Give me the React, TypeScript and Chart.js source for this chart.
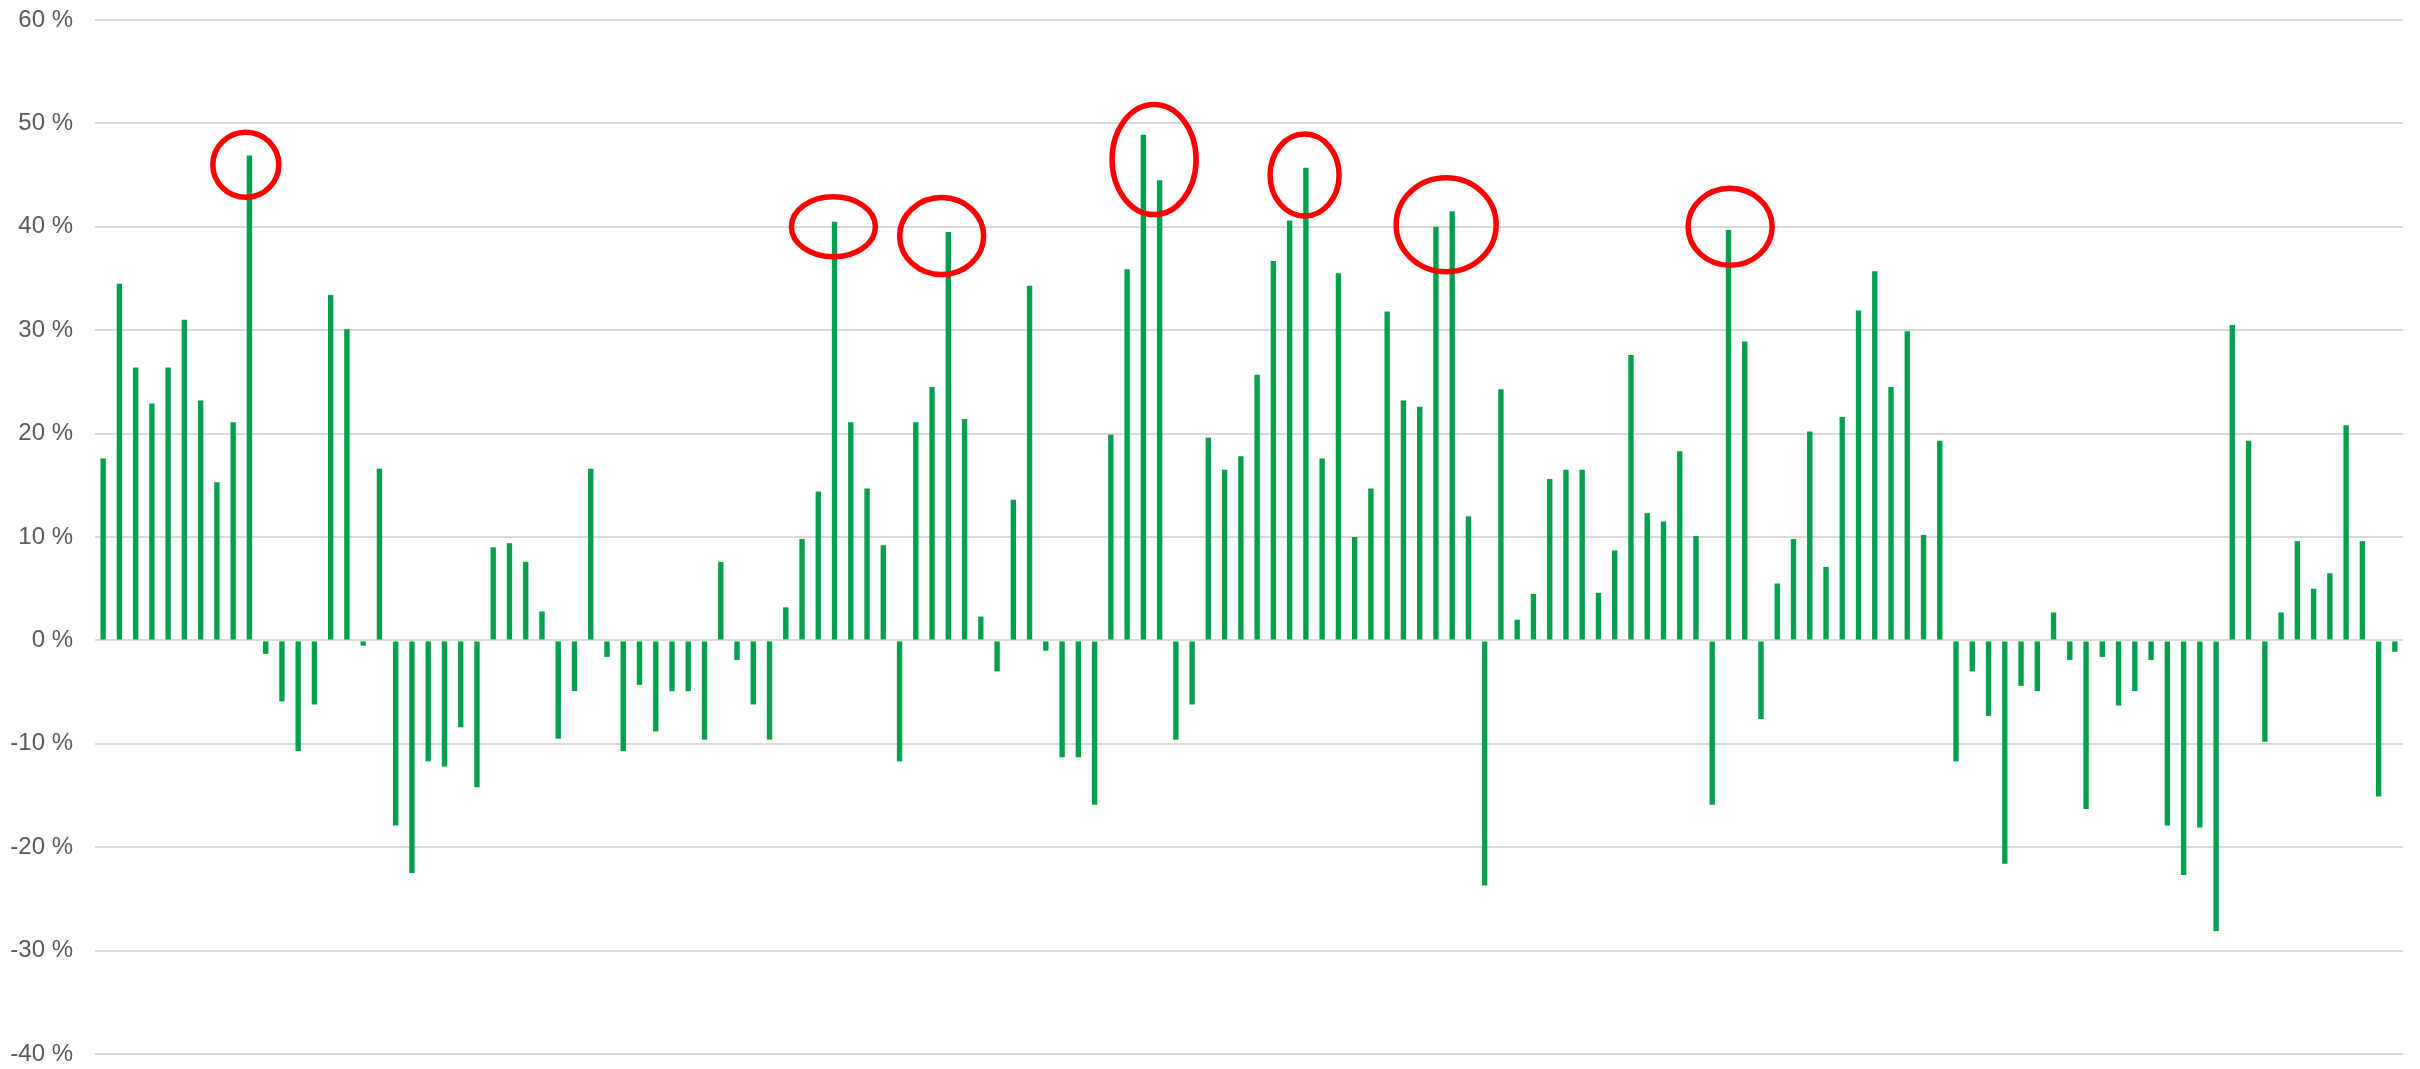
import React, { useEffect, useRef } from 'react';
import { Chart, registerables } from 'chart.js';

Chart.register(...registerables);

// Series values (%), one per period
const seriesValues: number[] = [
  17.6, 34.5, 26.4, 22.9, 26.4, 31.0, 23.2, 15.3, 21.1, 46.9,
  -1.3, -5.9, -10.7, -6.2, 33.4, 30.1, -0.5, 16.6, -17.9, -22.5,
  -11.7, -12.2, -8.4, -14.2, 9.0, 9.4, 7.6, 2.8, -9.5, -4.9,
  16.6, -1.6, -10.7, -4.3, -8.8, -4.9, -4.9, -9.6, 7.6, -1.9,
  -6.2, -9.6, 3.2, 9.8, 14.4, 40.5, 21.1, 14.7, 9.2, -11.7,
  21.1, 24.5, 39.5, 21.4, 2.3, -3.0, 13.6, 34.3, -1.0, -11.3,
  -11.3, -15.9, 19.9, 35.9, 48.9, 44.5, -9.6, -6.2, 19.6, 16.5,
  17.8, 25.7, 36.7, 40.6, 45.7, 17.6, 35.5, 10.0, 14.7, 31.8,
  23.2, 22.6, 40.0, 41.5, 12.0, -23.7, 24.3, 2.0, 4.5, 15.6,
  16.5, 16.5, 4.6, 8.7, 27.6, 12.3, 11.5, 18.3, 10.1, -15.9,
  39.7, 28.9, -7.6, 5.5, 9.8, 20.2, 7.1, 21.6, 31.9, 35.7,
  24.5, 29.9, 10.2, 19.3, -11.7, -3.0, -7.3, -21.6, -4.4, -4.9,
  2.7, -1.9, -16.3, -1.6, -6.3, -4.9, -1.9, -17.9, -22.7, -18.1,
  -28.1, 30.5, 19.3, -9.8, 2.7, 9.6, 5.0, 6.5, 20.8, 9.6,
  -15.1, -1.1,
];

// Category labels (periods are not labelled in the reference)
const categories: string[] = seriesValues.map((_, i) => String(i + 1));

// Y-axis ticks
const yMin = -40;
const yMax = 60;
const yStep = 10;

// Highlight ellipses: centre in data units (category position, value %)
const highlightPositions: number[] = [8.78, 44.93, 51.59, 64.66, 73.92, 82.63, 100.1];
const highlightValues: number[] = [46.0, 40.0, 39.1, 46.5, 45.0, 40.2, 40.0];

// Ellipse radii (px) – styling
const highlightRadii: Array<[number, number]> = [
  [33, 32.5], [42, 30], [42, 38.5], [42, 55], [34.5, 41], [50, 47], [42, 38.5],
];

const ellipsePlugin = {
  id: 'highlightEllipses',
  afterDatasetsDraw(chart: any, _args: any, opts: any) {
    const { ctx, scales } = chart;
    const xs = scales.x;
    const ys = scales.y;
    ctx.save();
    ctx.strokeStyle = opts.color;
    ctx.lineWidth = opts.lineWidth;
    highlightPositions.forEach((pos, i) => {
      const cx = xs.getPixelForValue(pos);
      const cy = ys.getPixelForValue(highlightValues[i]);
      const [rx, ry] = highlightRadii[i];
      ctx.beginPath();
      ctx.ellipse(cx, cy, rx, ry, 0, 0, Math.PI * 2);
      ctx.stroke();
    });
    ctx.restore();
  },
};

export default function App() {
  const canvasRef = useRef<HTMLCanvasElement | null>(null);

  useEffect(() => {
    if (!canvasRef.current) return;
    const chart = new Chart(canvasRef.current, {
      type: 'bar',
      data: {
        labels: categories,
        datasets: [
          {
            data: seriesValues,
            backgroundColor: '#00a04e',
            borderWidth: 0,
            barPercentage: 0.33,
            categoryPercentage: 1,
          },
        ],
      },
      options: {
        responsive: false,
        animation: false,
        devicePixelRatio: 1,
        layout: { padding: { left: 0, right: 17, top: 20, bottom: 15 } },
        plugins: {
          legend: { display: false },
          tooltip: { enabled: false },
          highlightEllipses: { color: '#ff0000', lineWidth: 5.5 },
        } as any,
        scales: {
          x: { display: false },
          y: {
            min: yMin,
            max: yMax,
            border: { display: false },
            grid: { color: '#d9d9d9', lineWidth: 2, drawTicks: false },
            ticks: {
              stepSize: yStep,
              padding: 22,
              color: '#595959',
              font: { family: '"Liberation Sans", Arial, sans-serif', size: 24 },
              callback: (v: any) => `${v} %`,
            },
            afterFit: (scale: any) => {
              scale.width = 95;
              scale.paddingTop = 0;
              scale.paddingBottom = 0;
            },
          },
        },
      },
      plugins: [ellipsePlugin],
    });
    return () => chart.destroy();
  }, []);

  return (
    <div style={{ position: 'fixed', left: 0, top: 0, width: 2420, height: 1069, background: '#fff' }}>
      <canvas ref={canvasRef} width={2420} height={1069} style={{ display: 'block' }} />
    </div>
  );
}
